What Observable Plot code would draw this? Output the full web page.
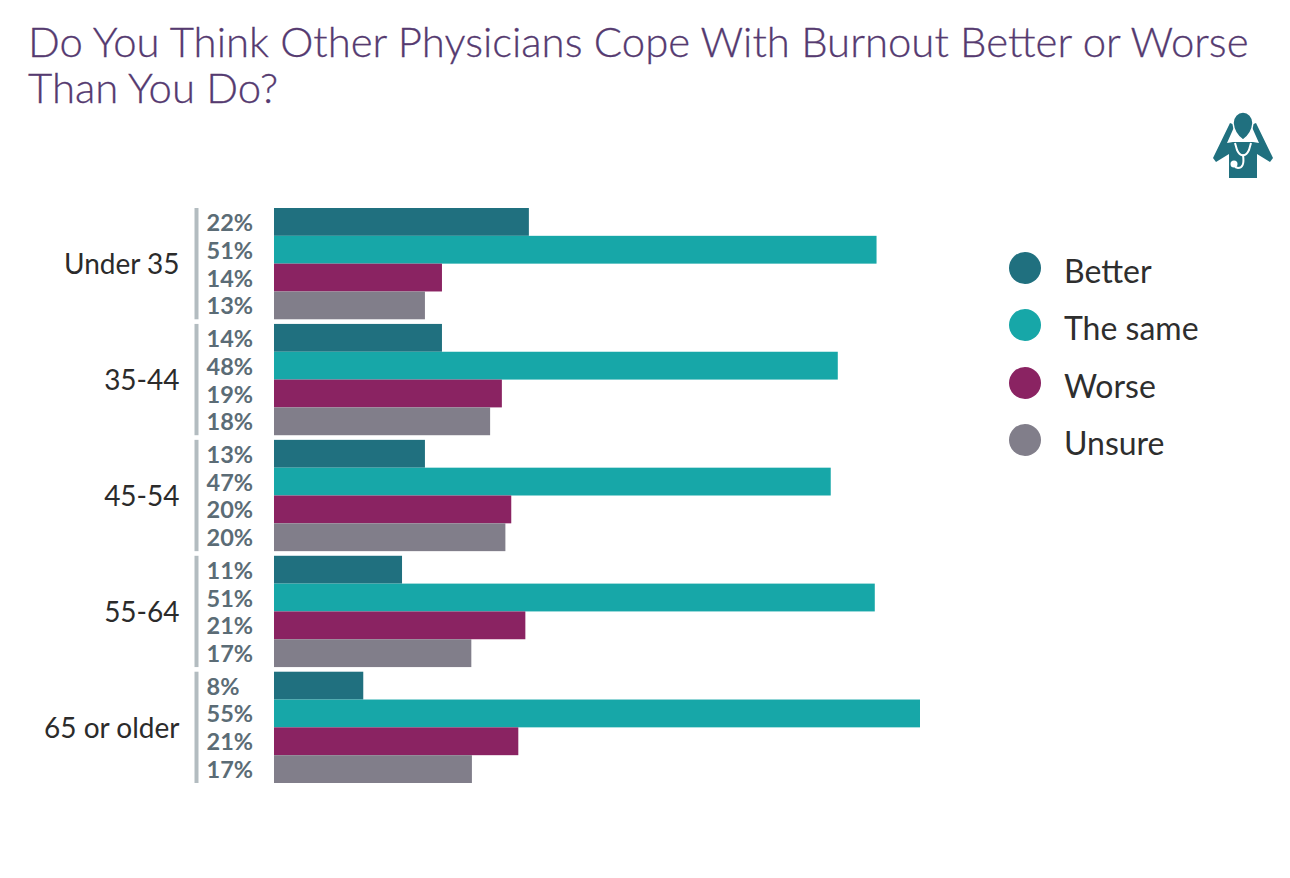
<!DOCTYPE html>
<html><head><meta charset="utf-8">
<script src="https://cdn.jsdelivr.net/npm/d3@7"></script>
<script src="https://cdn.jsdelivr.net/npm/@observablehq/plot@0.6"></script>
<style>
html,body{margin:0;padding:0;background:#fff;overflow:hidden}
#wrap{position:relative;width:1290px;height:878px;font-family:Lato,sans-serif}
#title{position:absolute;left:28px;top:18px;width:1255px;font-size:41.9px;line-height:46px;color:#553a70;font-weight:300;-webkit-text-stroke:0.3px #553a70;margin:0}
#chart{position:absolute;left:0;top:0}
#icon{position:absolute;left:1180px;top:90px}
.lg{position:absolute;left:1009px;height:32px;display:flex;align-items:center;font-size:32px;color:#2e2e2e}
.lg i{display:block;width:32px;height:32px;border-radius:50%;margin-right:23px}
.lg span{position:relative;top:2px}
</style></head><body>
<div id="wrap">
<h1 id="title">Do You Think Other Physicians Cope With Burnout Better or Worse<br>Than You Do?</h1>
<div id="chart"></div>
<svg id="icon" width="110" height="110" viewBox="0 0 110 110">
<path fill="#20707f" d="M33 68L50 33L55 35L47 53L53 52L73 52L79 53L71 35L76 33L93 68L90 72L77 64L77 88L49 88L49 64L36 72Z"/>
<path fill="#20707f" stroke="#fff" stroke-width="1.5" d="M53 33A10 11 0 0 1 73 33Q72 44 63 50Q54 44 53 33Z"/>
<g fill="none" stroke="#fff" stroke-width="2">
<path d="M55 53L57 60Q60 66 63 65Q66 66 69 60L71 53"/>
<path d="M63 65Q65 78 58 78L55 77"/>
<circle cx="54" cy="74" r="2.5" fill="#fff"/>
</g>
</svg>
<div id="legend"></div>
</div>
<script>
const groups = ["Under 35","35-44","45-54","55-64","65 or older"];
const series = ["Better","The same","Worse","Unsure"];
const colors = ["#20707f","#17a7a8","#8a2362","#817e8a"];
const better  = [21.7,14.3,12.85,10.9,7.6];
const same    = [51.3,48,47.4,51.15,55];
const worse   = [14.3,19.4,20.2,21.4,20.8];
const unsure  = [12.85,18.4,19.7,16.8,16.85];
const labelsBetter = [22,14,13,11,8];
const labelsSame   = [51,48,47,51,55];
const labelsWorse  = [14,19,20,21,21];
const labelsUnsure = [13,18,20,17,17];

const vals = [better,same,worse,unsure];
const labs = [labelsBetter,labelsSame,labelsWorse,labelsUnsure];
const rows = groups.flatMap((g,i)=>series.map((s,j)=>({group:g,series:s,value:vals[j][i],label:labs[j][i]+"%"})));

const plot = Plot.plot({
  width:1290,height:878,
  marginTop:208,marginBottom:95,marginLeft:274,marginRight:370,
  style:{fontFamily:"Lato,sans-serif",background:"transparent"},
  x:{domain:[0,55],range:[274,920],axis:null},
  y:{domain:series,padding:0,round:false,axis:null},
  fy:{domain:groups,paddingInner:0.04,paddingOuter:0,round:false,label:null,axis:null},
  color:{domain:series,range:colors},
  marks:[
    Plot.barX(rows,{fy:"group",y:"series",x:"value",fill:"series"}),
    Plot.ruleX(groups.map(g=>({group:g})),{fy:"group",x:()=>0,dx:-78,stroke:"#b3bcc0",strokeWidth:4}),
    Plot.text(rows,{fy:"group",y:"series",x:()=>0,text:"label",textAnchor:"start",dx:-68,dy:1,fontSize:23.5,fontWeight:700,fill:"#5b6c76"}),
    Plot.axisFy({anchor:"left",tickSize:0,tickPadding:95,dy:1,fontSize:28,label:null,color:"#2b2b2b"})
  ]
});
document.getElementById("chart").appendChild(plot);
const tops=[252,309,367,424];
const lg=document.getElementById("legend");
series.forEach((s,i)=>{
  const d=document.createElement("div");d.className="lg";d.style.top=tops[i]+"px";
  const c=document.createElement("i");c.style.background=colors[i];d.appendChild(c);
  const t=document.createElement("span");t.textContent=s;d.appendChild(t);lg.appendChild(d);
});
</script></body></html>
